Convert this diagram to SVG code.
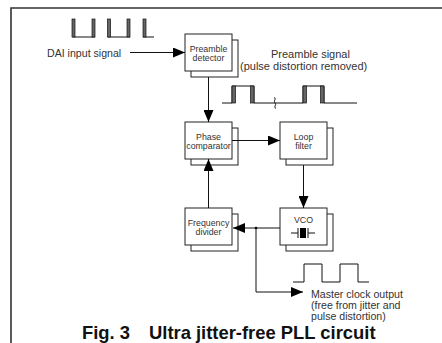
<svg xmlns="http://www.w3.org/2000/svg" width="442" height="343" viewBox="0 0 442 343">
<style>
.bx{fill:#fff;stroke:#222;stroke-width:1}
.t{font-family:"Liberation Sans",Arial,sans-serif;font-size:8.8px;fill:#333;text-anchor:middle}
.lbl{font-family:"Liberation Sans",Arial,sans-serif;font-size:10.6px;fill:#333}
.ln{fill:none;stroke:#111;stroke-width:1}
.edge{fill:#666;stroke:#111;stroke-width:0.7}
.ttl{font-family:"Liberation Sans",Arial,sans-serif;font-size:18.4px;font-weight:bold;fill:#111}
</style>
<defs>
<marker id="ah" viewBox="0 0 12 10" refX="12" refY="5" markerWidth="12" markerHeight="10" markerUnits="userSpaceOnUse" orient="auto">
<path d="M0,0 L12,5 L0,10 Z" fill="#000"/>
</marker>
</defs>
<rect width="442" height="343" fill="#fff"/>
<path d="M11,343 V8 H442" fill="none" stroke="#333" stroke-width="1.6"/>

<g id="dai-waveform">
<path class="ln" d="M72.5,37 H95 M108,37 H130 M143,37 H154"/>
<rect class="edge" x="72" y="19" width="3" height="18"/>
<rect class="edge" x="92" y="19" width="3" height="18"/>
<rect class="edge" x="107.5" y="19" width="3" height="18"/>
<rect class="edge" x="127" y="19" width="3" height="18"/>
<rect class="edge" x="143" y="19" width="3" height="18"/>
</g>
<text class="lbl" x="47" y="56.5">DAI input signal</text>

<g id="preamble-waveform">
<path class="ln" d="M222,103 H232 V86 H254 V103 H303 V86 H324 V103 H357"/>
<rect class="edge" x="232" y="86" width="3.5" height="17"/>
<rect class="edge" x="250.5" y="86" width="3.5" height="17"/>
<rect class="edge" x="303" y="86" width="3.5" height="17"/>
<rect class="edge" x="320.5" y="86" width="3.5" height="17"/>
<path class="ln" d="M274,97.5 C277,98.5 273,101 275,103 C277,105 273,107 276,108.5" stroke-width="1.1"/>
</g>
<text class="lbl" x="271" y="57.5" style="font-size:11px">Preamble signal</text>
<text class="lbl" x="240" y="69.5" style="font-size:11px">(pulse distortion removed)</text>

<g id="preamble-detector">
<rect class="bx" x="191" y="40" width="47" height="37"/>
<rect class="bx" x="185" y="34" width="47" height="37"/>
<text class="t" x="208.5" y="51.5">Preamble</text>
<text class="t" x="208.5" y="60.5">detector</text>
</g>

<g id="phase-comparator">
<rect class="bx" x="191" y="128" width="47" height="37"/>
<rect class="bx" x="185" y="122" width="47" height="37"/>
<text class="t" x="208.5" y="139.5">Phase</text>
<text class="t" x="208.5" y="148.5">comparator</text>
</g>

<g id="loop-filter">
<rect class="bx" x="286" y="128" width="47" height="37"/>
<rect class="bx" x="280" y="122" width="47" height="37"/>
<text class="t" x="303.5" y="139.5">Loop</text>
<text class="t" x="303.5" y="148.5">filter</text>
</g>

<g id="frequency-divider">
<rect class="bx" x="191" y="214" width="47" height="37"/>
<rect class="bx" x="185" y="208" width="47" height="37"/>
<text class="t" x="208.5" y="225.5">Frequency</text>
<text class="t" x="208.5" y="234.5">divider</text>
</g>

<g id="vco">
<rect class="bx" x="286" y="214" width="47" height="37"/>
<rect class="bx" x="280" y="208" width="47" height="37"/>
<text class="t" x="303.5" y="222.5">VCO</text>
<path class="ln" d="M291,233 H298 M298,228 V238 M308,228 V238 M308,233 H315"/>
<rect x="300" y="228" width="6" height="10" fill="#000"/>
</g>

<g id="clock-waveform">
<path class="ln" d="M293,282 H304 V264 H322 V282 H340 V264 H358 V282 H369"/>
</g>
<text class="lbl" x="311" y="298">Master clock output</text>
<text class="lbl" x="311" y="309">(free from jitter and</text>
<text class="lbl" x="311" y="320">pulse distortion)</text>

<g id="connectors">
<line class="ln" x1="130" y1="52.5" x2="185" y2="52.5" marker-end="url(#ah)"/>
<line class="ln" x1="208.5" y1="77" x2="208.5" y2="122" marker-end="url(#ah)"/>
<line class="ln" x1="232" y1="140.5" x2="280" y2="140.5" marker-end="url(#ah)"/>
<line class="ln" x1="303.5" y1="165" x2="303.5" y2="208" marker-end="url(#ah)"/>
<line class="ln" x1="280" y1="228" x2="233" y2="228" marker-end="url(#ah)"/>
<line class="ln" x1="208.5" y1="208" x2="208.5" y2="159" marker-end="url(#ah)"/>
<path class="ln" d="M256,228 V292 H303" marker-end="url(#ah)"/>
<circle cx="256" cy="228" r="1.3" fill="#000"/>
</g>

<text class="ttl" x="82" y="339">Fig. 3</text>
<text class="ttl" x="149" y="339">Ultra jitter-free PLL circuit</text>
</svg>
